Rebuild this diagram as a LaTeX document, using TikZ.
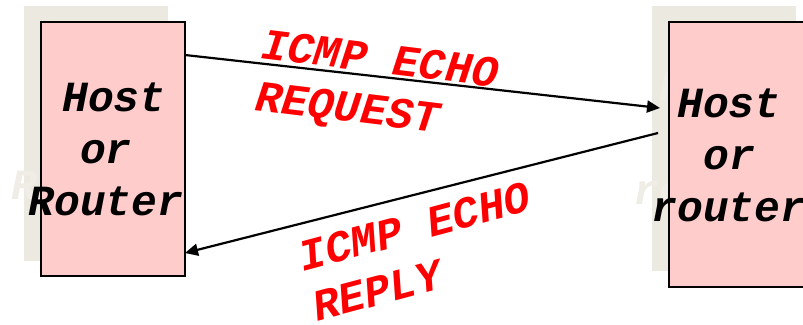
\documentclass[tikz,border=0pt]{standalone}
\usepackage{fontspec}
\newfontfamily\cour{Liberation Mono}
\usetikzlibrary{arrows.meta}
\definecolor{shadowc}{HTML}{ECEAE0}
\definecolor{ghostc}{HTML}{EFEDE6}
\definecolor{pinkc}{HTML}{FFCCCC}
\definecolor{redc}{HTML}{FF0000}
\tikzset{
  hostbox/.style={draw=black, line width=1.6pt, fill=pinkc, inner sep=0pt, minimum width=144pt},
  shadowbox/.style={fill=shadowc, inner sep=0pt, minimum width=144pt},
  boxtext/.style={font=\cour\bfseries\itshape\fontsize{43}{52}\selectfont, align=center, inner sep=0pt},
  lbl/.style={font=\cour\bfseries\itshape\fontsize{44}{52}\selectfont, text=redc, align=left, inner sep=0pt},
  arr/.style={line width=2.2pt, -{Triangle[length=13pt,width=12pt]}}
}
\begin{document}
\begin{tikzpicture}[x=1pt,y=-1pt]
\useasboundingbox (0,0) rectangle (803,324);
\clip (0,0) rectangle (803,324);
% shadows
\node[shadowbox, minimum height=255pt] (LS) at (96,133.5) {};
\node[boxtext, text=ghostc] (LST) at (89,133) {\hspace*{16pt}Host\\or\\Router};
\node[shadowbox, minimum height=265pt] (RS) at (724,138.5) {};
\node[boxtext, text=ghostc] (RST) at (711,138) {Host\\or\\router};
% boxes
\node[hostbox, minimum height=254pt] (L) at (113,149) {};
\node[boxtext] (LT) at (106,149) {\hspace*{16pt}Host\\or\\Router};
\node[hostbox, minimum height=265pt] (R) at (741,154.5) {};
\node[boxtext] (RT) at (729,155) {Host\\or\\router};
% arrows
\coordinate (reqS) at (185,55);
\coordinate (reqE) at (660,108);
\coordinate (repS) at (658,133);
\coordinate (repE) at (185,253);
\draw[arr] (reqS) -- (reqE);
\draw[arr] (repS) -- (repE);
% labels
\node[lbl, rotate=-7, anchor=north west] (reqL) at (264,29) {ICMP ECHO\\REQUEST};
\node[lbl, rotate=15, anchor=north west] (repL) at (296,243) {ICMP ECHO\\REPLY};
\end{tikzpicture}
\end{document}
